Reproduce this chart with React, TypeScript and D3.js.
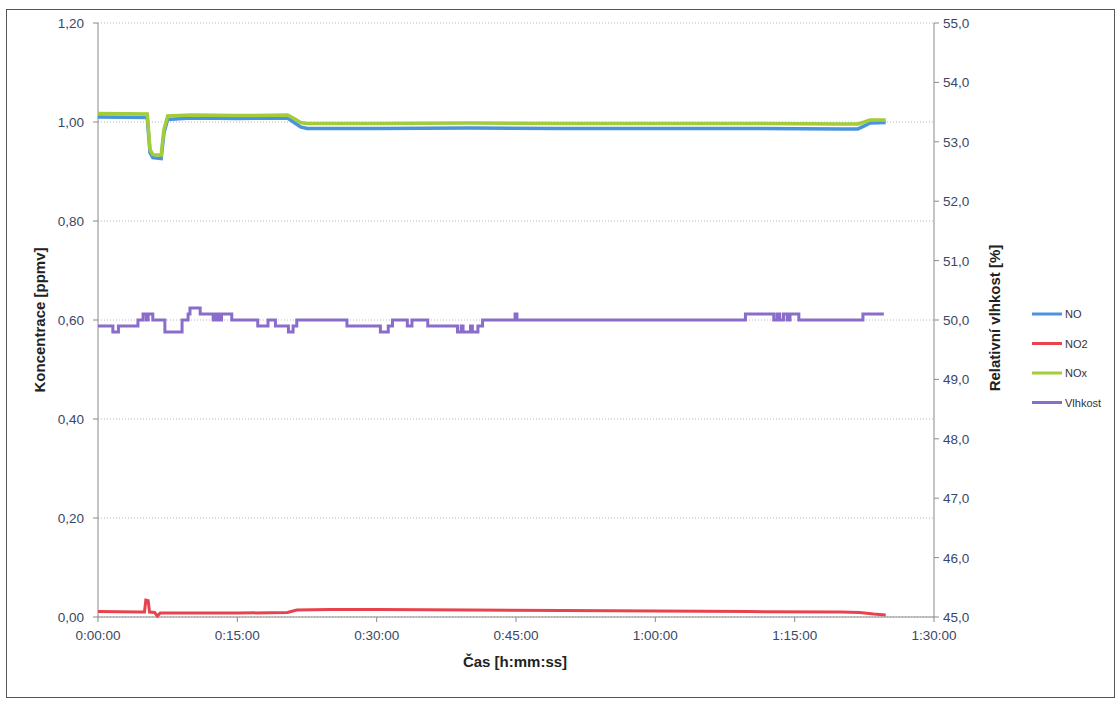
import React from "react";
import * as d3 from "d3";

// time in minutes
const noxTimes = [0, 5.3, 5.6, 5.9, 6.8, 7.1, 7.5, 10, 15, 20.4, 21.2, 21.8, 22.5, 30, 40, 50, 60, 70, 80, 81.8, 82.5, 83.1, 84.8];
const noxValues = [1.017, 1.016, 0.945, 0.934, 0.933, 0.985, 1.012, 1.014, 1.013, 1.014, 1.006, 0.999, 0.997, 0.997, 0.998, 0.997, 0.997, 0.997, 0.996, 0.996, 1.000, 1.004, 1.004];

const noTimes = [0, 5.3, 5.6, 5.9, 6.8, 7.1, 7.5, 10, 15, 20.4, 21.2, 21.8, 22.5, 30, 40, 50, 60, 70, 80, 81.8, 82.5, 83.1, 84.8];
const noValues = [1.010, 1.009, 0.938, 0.928, 0.926, 0.978, 1.005, 1.008, 1.007, 1.008, 0.998, 0.990, 0.987, 0.987, 0.988, 0.987, 0.987, 0.987, 0.986, 0.986, 0.992, 0.998, 0.999];

const no2Times = [0, 4.5, 5.0, 5.15, 5.4, 5.55, 6.1, 6.4, 6.7, 10, 15, 20.4, 21.4, 25, 30, 40, 50, 60, 70, 80, 82, 83.5, 84.8];
const no2Values = [0.011, 0.010, 0.010, 0.034, 0.033, 0.010, 0.009, 0.002, 0.008, 0.008, 0.008, 0.009, 0.014, 0.015, 0.015, 0.014, 0.013, 0.012, 0.011, 0.010, 0.009, 0.006, 0.004];

const humTimes = [0, 1.6, 2.2, 4.3, 4.85, 5.2, 5.4, 5.9, 7.2, 9.05, 9.7, 9.9, 11.0, 12.4, 12.7, 13.0, 13.3, 14.4, 17.2, 18.3, 19.1, 20.5, 21.0, 21.4, 26.8, 30.4, 31.25, 31.7, 33.3, 33.8, 35.5, 38.7, 39.1, 39.3, 40.1, 40.3, 40.9, 41.4, 44.9, 45.1, 69.7, 72.75, 73.1, 73.4, 73.8, 74.2, 74.5, 75.45, 82.35, 84.6];
const humValues = [49.9, 49.8, 49.9, 50.0, 50.1, 50.0, 50.1, 50.0, 49.8, 50.0, 50.1, 50.2, 50.1, 50.0, 50.1, 50.0, 50.1, 50.0, 49.9, 50.0, 49.9, 49.8, 49.9, 50.0, 49.9, 49.8, 49.9, 50.0, 49.9, 50.0, 49.9, 49.8, 49.9, 49.8, 49.9, 49.8, 49.9, 50.0, 50.1, 50.0, 50.1, 50.0, 50.1, 50.0, 50.1, 50.0, 50.1, 50.0, 50.1, 50.1];

const leftTicks = [0, 0.2, 0.4, 0.6, 0.8, 1.0, 1.2];
const rightTicks = [45, 46, 47, 48, 49, 50, 51, 52, 53, 54, 55];
const timeTicks = [0, 15, 30, 45, 60, 75, 90];

const seriesNames = ["NO", "NO2", "NOx", "Vlhkost"];
const seriesColors = ["#4a94dc", "#e8424f", "#a2cc3a", "#8a6cca"];

const fmtTime = (m: number) => {
  const h = Math.floor(m / 60);
  const mm = m % 60;
  return `${h}:${String(mm).padStart(2, "0")}:00`;
};

export default function App() {
  const W = 1119, H = 701;
  const x = d3.scaleLinear().domain([0, 90]).range([98, 934]);
  const yL = d3.scaleLinear().domain([0, 1.2]).range([617, 23]);
  const yR = d3.scaleLinear().domain([45, 55]).range([617, 23]);

  const mk = (ts: number[], vs: number[], y: d3.ScaleLinear<number, number>, curve: any) =>
    d3.line<number>().x((_, i) => x(ts[i])).y((v) => y(v)).curve(curve)(vs) || "";

  const tickColor = "#3a4766";
  const font = "'Liberation Sans', Arial, sans-serif";

  return (
    <svg width={W} height={H} style={{ position: "absolute", left: 0, top: 0, background: "#fff" }} fontFamily={font}>
      <rect x={6.5} y={9.5} width={1108} height={688} fill="none" stroke="#555" strokeWidth={1} />
      {/* gridlines */}
      {leftTicks.map((t) => (
        <line key={"g" + t} x1={98} x2={934} y1={yL(t)} y2={yL(t)} stroke="#b8b8b8" strokeWidth={1} strokeDasharray="1,2" />
      ))}
      {/* axes */}
      <line x1={98} x2={98} y1={23} y2={617} stroke="#8a8a8a" />
      <line x1={98} x2={934} y1={617} y2={617} stroke="#8a8a8a" />
      <line x1={934} x2={934} y1={23} y2={617} stroke="#8a8a8a" />
      {leftTicks.map((t) => (
        <g key={"l" + t}>
          <line x1={93} x2={98} y1={yL(t)} y2={yL(t)} stroke="#8a8a8a" />
          <text x={84} y={yL(t) + 5} textAnchor="end" fontSize={13.5} fill={tickColor}>
            {d3.format(".2f")(t).replace(".", ",")}
          </text>
        </g>
      ))}
      {rightTicks.map((t) => (
        <g key={"r" + t}>
          <line x1={934} x2={939} y1={yR(t)} y2={yR(t)} stroke="#8a8a8a" />
          <text x={943} y={yR(t) + 5} textAnchor="start" fontSize={13.5} fill={tickColor}>
            {d3.format(".1f")(t).replace(".", ",")}
          </text>
        </g>
      ))}
      {timeTicks.map((t) => (
        <g key={"t" + t}>
          <line x1={x(t)} x2={x(t)} y1={617} y2={622} stroke="#8a8a8a" />
          <text x={x(t)} y={640} textAnchor="middle" fontSize={13.5} fill={tickColor}>
            {fmtTime(t)}
          </text>
        </g>
      ))}
      {/* series */}
      <path d={mk(humTimes, humValues, yR, d3.curveStepAfter)} fill="none" stroke={seriesColors[3]} strokeWidth={3} />
      <path d={mk(no2Times, no2Values, yL, d3.curveLinear)} fill="none" stroke={seriesColors[1]} strokeWidth={3} />
      <path d={mk(noTimes, noValues, yL, d3.curveLinear)} fill="none" stroke={seriesColors[0]} strokeWidth={3.5} />
      <path d={mk(noxTimes, noxValues, yL, d3.curveLinear)} fill="none" stroke={seriesColors[2]} strokeWidth={3.5} />
      {/* axis titles */}
      <text transform={`translate(45,${yL(0.6)}) rotate(-90)`} textAnchor="middle" fontSize={15} fontWeight="bold" fill="#222">
        Koncentrace [ppmv]
      </text>
      <text transform={`translate(1000,${yR(50) - 2}) rotate(-90)`} textAnchor="middle" fontSize={15} fontWeight="bold" fill="#222">
        Relativní vlhkost [%]
      </text>
      <text x={515} y={667} textAnchor="middle" fontSize={15} fontWeight="bold" fill="#222">
        Čas [h:mm:ss]
      </text>
      {/* legend */}
      {seriesNames.map((n, i) => (
        <g key={n} transform={`translate(1032,${314 + i * 29.5})`}>
          <line x1={0} x2={30} y1={0} y2={0} stroke={seriesColors[i]} strokeWidth={3} />
          <text x={33} y={4} fontSize={11} fill="#333">{n}</text>
        </g>
      ))}
    </svg>
  );
}
